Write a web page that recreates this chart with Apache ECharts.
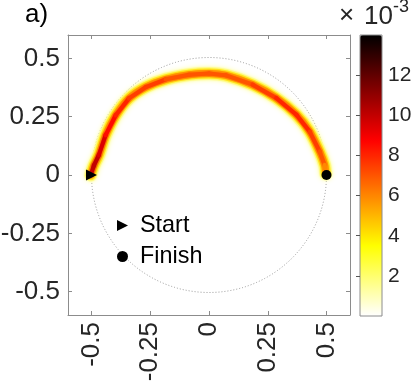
<!DOCTYPE html>
<html>
<head>
    <meta charset="UTF-8">
    <title>a) path density</title>
    <script src="https://cdn.jsdelivr.net/npm/echarts@6/dist/echarts.min.js"></script>
</head>
<body style="margin:0;background:#fff">
<div id="main" style="width: 415px; height: 386px"></div>
<script>
    // path centre line, intensity in units of 1e-3
    var arcX = [-0.503, -0.49, -0.469, -0.44, -0.397, -0.341, -0.269, -0.184, -0.084, 0.0, 0.073, 0.186, 0.286, 0.372, 0.429, 0.471, 0.492, 0.497];
    var arcY = [0.0, 0.04, 0.085, 0.171, 0.256, 0.328, 0.377, 0.41, 0.43, 0.435, 0.427, 0.387, 0.33, 0.258, 0.185, 0.1, 0.043, 0.005];
    var arcV = [10, 10, 9.5, 8.5, 8, 7.5, 7.5, 7, 7, 7, 7, 7.5, 8, 8, 7.5, 7, 6, 5];
    var startPt = [-0.5, 0];
    var finishPt = [0.5, 0];
    var ringCentre = [0, 0];
    var ringRadius = 0.5;
    var axisTicks = [-0.5, -0.25, 0, 0.25, 0.5];
    var barTicks = [2, 4, 6, 8, 10, 12];
    var barMin = 0, barMax = 14;

    var font = 'Liberation Sans';
    var axisGray = '#8c8c8c';
    var textCol = '#262626';
    var rightTri = 'path://M0,0L10,5L0,10Z';
    // flipped "hot" map, evenly spaced stops
    var hotFlip = ['#ffffff', '#ffff80', '#ffff00', '#ffaa00', '#ff5500', '#ff0000', '#aa0000', '#550000', '#000000'];

    var arcPts = arcX.map(function (x, i) { return [x, arcY[i]]; });
    var corePts = arcX.map(function (x, i) { return [x, arcY[i], arcV[i]]; });

    var myChart = echarts.init(document.getElementById('main'));

    function bandLine(width, color, blur) {
        return {
            type: 'line', xAxisIndex: 0, yAxisIndex: 0, data: arcPts,
            symbol: 'none', smooth: 0.3, silent: true,
            lineStyle: {width: width, color: color, cap: 'round', join: 'round',
                shadowBlur: blur, shadowColor: color}
        };
    }

    var option = {
        backgroundColor: '#fff',
        animation: false,
        textStyle: {fontFamily: font},
        grid: [
            {left: 68, top: 35, width: 282, height: 280, outerBoundsMode: 'none', containLabel: false},
            {left: 360, top: 35, width: 22, height: 281, show: true, z: 10, outerBoundsMode: 'none', containLabel: false,
                borderColor: axisGray, borderWidth: 1, backgroundColor: 'transparent'}
        ],
        xAxis: [
            {gridIndex: 0, type: 'value', min: -0.6, max: 0.6, position: 'bottom',
                axisLine: {onZero: false, lineStyle: {color: axisGray}},
                axisTick: {inside: true, length: 4, customValues: axisTicks, lineStyle: {color: axisGray}},
                axisLabel: {rotate: 90, fontSize: 26, color: textCol, margin: 7, customValues: axisTicks},
                splitLine: {show: false},
                name: 'x', nameLocation: 'middle', nameGap: 49,
                nameTextStyle: {fontSize: 27, color: textCol}},
            {gridIndex: 0, type: 'value', min: -0.6, max: 0.6, position: 'top',
                axisLine: {onZero: false, lineStyle: {color: axisGray}},
                axisTick: {inside: true, length: 4, customValues: axisTicks, lineStyle: {color: axisGray}},
                axisLabel: {show: false}, splitLine: {show: false}},
            {gridIndex: 1, type: 'value', show: false, min: 0, max: 1}
        ],
        yAxis: [
            {gridIndex: 0, type: 'value', min: -0.6, max: 0.6, position: 'left',
                axisLine: {onZero: false, lineStyle: {color: axisGray}},
                axisTick: {inside: true, length: 4, customValues: axisTicks, lineStyle: {color: axisGray}},
                axisLabel: {fontSize: 26, color: textCol, margin: 8, customValues: axisTicks},
                splitLine: {show: false},
                name: 'y', nameLocation: 'middle', nameGap: 50,
                nameTextStyle: {fontSize: 27, color: textCol}},
            {gridIndex: 0, type: 'value', min: -0.6, max: 0.6, position: 'right',
                axisLine: {onZero: false, lineStyle: {color: axisGray}},
                axisTick: {inside: true, length: 4, customValues: axisTicks, lineStyle: {color: axisGray}},
                axisLabel: {show: false}, splitLine: {show: false}},
            {gridIndex: 1, type: 'value', min: barMin, max: barMax, position: 'right', z: 10,
                axisLine: {show: false},
                axisTick: {inside: true, length: 4, customValues: barTicks, lineStyle: {color: '#555'}},
                axisLabel: {fontSize: 21, color: textCol, margin: 6, customValues: barTicks},
                splitLine: {show: false}}
        ],
        visualMap: {
            type: 'continuous', min: barMin, max: barMax, dimension: 2, seriesIndex: 4,
            left: 360, top: 35, itemWidth: 22, itemHeight: 281, padding: 0,
            calculable: false, text: ['', ''], hoverLink: false,
            inRange: {color: hotFlip}
        },
        legend: {
            data: ['Start', 'Finish'], orient: 'vertical', left: 112, top: 209,
            itemWidth: 11, itemHeight: 11, itemGap: 8,
            itemStyle: {opacity: 1},
            textStyle: {fontSize: 23.4, color: '#000', fontFamily: font, padding: [0, 0, 0, 7]}
        },
        series: [
            {
                // dotted reference ring
                type: 'custom', xAxisIndex: 0, yAxisIndex: 0, silent: true,
                data: [[ringCentre[0], ringCentre[1], ringRadius]],
                renderItem: function (params, api) {
                    var c = api.coord([api.value(0), api.value(1)]);
                    var r = api.size([api.value(2), 0])[0];
                    return {type: 'circle', shape: {cx: c[0], cy: c[1], r: r},
                        style: {fill: 'none', stroke: '#999', lineWidth: 1, lineDash: [1, 2]}};
                }
            },
            bandLine(13, '#ffffa8', 5),
            bandLine(10, '#ffee20', 3),
            bandLine(7, '#ff9a00', 2),
            {
                // core of the path, coloured by the colour bar
                type: 'custom', xAxisIndex: 0, yAxisIndex: 0, silent: true, z: 4,
                data: corePts,
                renderItem: function (params, api) {
                    var i = params.dataIndex;
                    if (i >= corePts.length - 1) return;
                    var a = api.coord([api.value(0), api.value(1)]);
                    var b = api.coord([corePts[i + 1][0], corePts[i + 1][1]]);
                    return {type: 'line', shape: {x1: a[0], y1: a[1], x2: b[0], y2: b[1]},
                        style: {stroke: api.visual('color'), lineWidth: 4, lineCap: 'round',
                            shadowBlur: 2, shadowColor: api.visual('color')}};
                }
            },
            {
                name: 'Start', type: 'scatter', xAxisIndex: 0, yAxisIndex: 0,
                data: [startPt], symbol: rightTri, symbolSize: [11, 11],
                itemStyle: {color: '#000', opacity: 1}, z: 5
            },
            {
                name: 'Finish', type: 'scatter', xAxisIndex: 0, yAxisIndex: 0,
                data: [finishPt], symbol: 'circle', symbolSize: 10,
                itemStyle: {color: '#000', opacity: 1}, z: 5
            }
        ],
        graphic: [
            {type: 'text', left: 25, top: 2, style: {text: 'a)', fontSize: 26, fontFamily: font, fill: '#000'}},
            {type: 'text', left: 339, top: 3, style: {text: '\u00d7', fontSize: 26, fontFamily: font, fill: textCol}},
            {type: 'text', left: 364, top: 4, style: {text: '10', fontSize: 26, fontFamily: font, fill: textCol}},
            {type: 'text', left: 393, top: -2, style: {text: '-3', fontSize: 18, fontFamily: font, fill: textCol}}
        ]
    };
    myChart.setOption(option);
</script>
</body>
</html>
